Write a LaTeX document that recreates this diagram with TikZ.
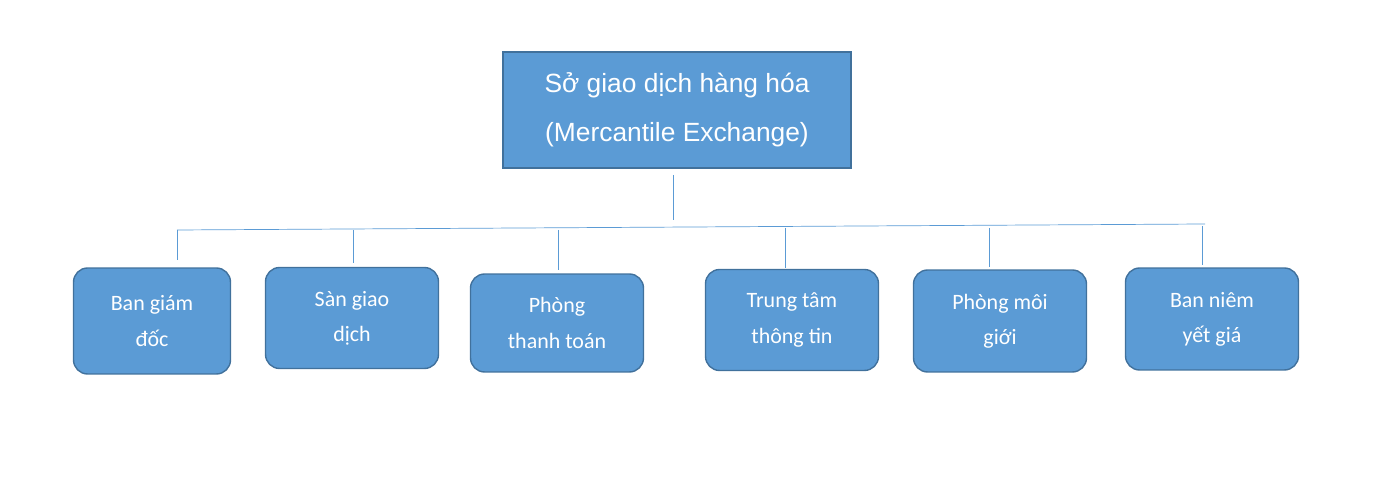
\documentclass[tikz,border=0pt]{standalone}
\usepackage{fontspec}
\setmainfont{Carlito}
\newfontfamily\headfont{Liberation Sans}
\usetikzlibrary{positioning}
\definecolor{boxblue}{HTML}{5B9BD5}
\definecolor{boxedge}{HTML}{41719C}
\tikzset{
  unit/.style={draw=boxedge, thick, fill=boxblue, rounded corners=8pt, text=white,
    align=center, font=\fontsize{12.5}{20}\selectfont, inner sep=0pt},
  link/.style={draw=boxblue}
}
\begin{document}
\begin{tikzpicture}[x=0.02cm,y=-0.02cm]
  \useasboundingbox (0,0) rectangle (1390,492);
  % top box
  \node[draw=boxedge, thick, fill=boxblue, text=white, align=center,
        font=\headfont\fontsize{15}{28}\selectfont, minimum width=6.96cm, minimum height=2.32cm]
        (exch) at (677,110) {Sở giao dịch hàng hóa\\(Mercantile Exchange)};
  % departments
  \node[unit, minimum width=3.14cm, minimum height=2.12cm] (bgd) at (152,321) {Ban giám\\đốc};
  \node[unit, minimum width=3.46cm, minimum height=2.02cm] (sgd) at (352,318) {Sàn giao\\dịch};
  \node[unit, minimum width=3.46cm, minimum height=1.96cm] (ptt) at (557,323) {Phòng\\thanh toán};
  \node[unit, minimum width=3.46cm, minimum height=2.02cm] (ttt) at (792,320) {Trung tâm\\thông tin};
  \node[unit, minimum width=3.46cm, minimum height=2.04cm] (pmg) at (1000,321) {Phòng môi\\giới};
  \node[unit, minimum width=3.46cm, minimum height=2.04cm] (bny) at (1212,319) {Ban niêm\\yết giá};
  % connectors
  \coordinate (top) at (673,175);
  \coordinate (mid) at (673,220);
  \coordinate (left) at (177,230);
  \coordinate (right) at (1205,224);
  \draw[link] (top) -- (mid);
  \draw[link] (left) -- (right);
  \foreach \x/\y/\e/\n in {177/230/260/bgd, 353/230/263/sgd, 558/230/270/ptt,
                           785/228/268/ttt, 989/228/267/pmg, 1202/226/265/bny}{
    \coordinate (d\n) at (\x,\y);
    \coordinate (e\n) at (\x,\e);
    \draw[link] (d\n) -- (e\n);
  }
\end{tikzpicture}
\end{document}
